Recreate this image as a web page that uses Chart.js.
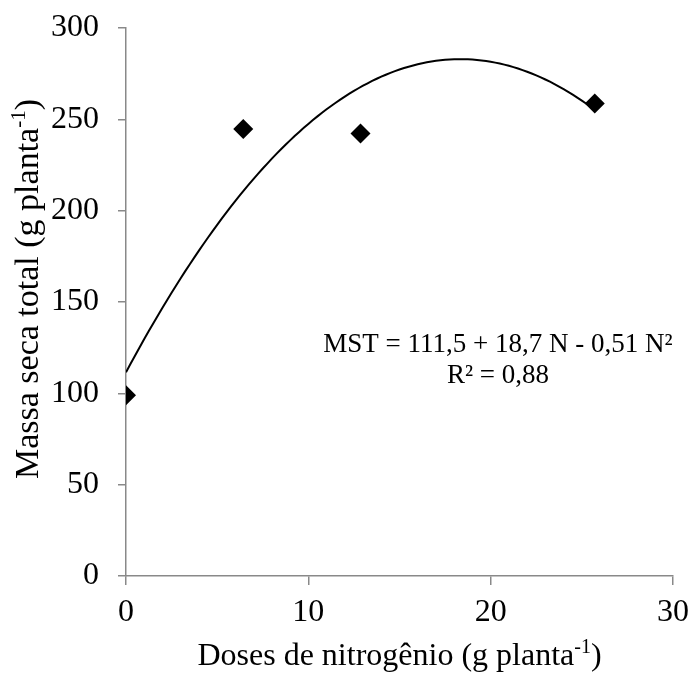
<!DOCTYPE html>
<html>
<head>
<meta charset="utf-8">
<script src="https://cdn.jsdelivr.net/npm/chart.js@4/dist/chart.umd.min.js"></script>
<style>
    body { margin: 0; background: #fff; }
    #wrap { width: 693px; height: 677px; }
</style>
</head>
<body>
<div id="wrap"><canvas id="mstChart"></canvas></div>
<script>
const doses = [0, 6.43, 12.86, 25.71];
const massaSeca = [99, 244.7, 242.3, 258.7];

// Fitted regression printed on the figure: MST = b0 + b1 N + b2 N²
const coefs = [111.5, 18.7, -0.51];
const curveStep = 0.25;

const xTicks = [0, 10, 20, 30];
const yTicks = [0, 50, 100, 150, 200, 250, 300];

const eqLines = ['MST = 111,5 + 18,7 N - 0,51 N\u00B2', 'R\u00B2 = 0,88'];

// build the trend curve from the printed coefficients
const curve = [];
const nMax = doses[doses.length - 1];
for (let n = 0; n <= nMax + 1e-9; n += curveStep) {
    curve.push({ x: n, y: coefs[0] + coefs[1] * n + coefs[2] * n * n });
}
curve.push({ x: nMax, y: coefs[0] + coefs[1] * nMax + coefs[2] * nMax * nMax });

const points = doses.map((d, i) => ({ x: d, y: massaSeca[i] }));

const FONT = '"Liberation Serif", "Times New Roman", serif';

// draws text with a raised "-1" exponent before the closing bracket
function drawSupTitle(ctx, base, sup, tail, size) {
    const small = Math.round(size * 0.62);
    ctx.font = size + 'px ' + FONT;
    const w1 = ctx.measureText(base).width;
    const w3 = ctx.measureText(tail).width;
    ctx.font = small + 'px ' + FONT;
    const w2 = ctx.measureText(sup).width;
    const total = w1 + w2 + w3;
    let x = -total / 2;
    ctx.textAlign = 'left';
    ctx.textBaseline = 'alphabetic';
    ctx.font = size + 'px ' + FONT;
    ctx.fillText(base, x, 0);
    x += w1;
    ctx.font = small + 'px ' + FONT;
    ctx.fillText(sup, x, -size * 0.38);
    x += w2;
    ctx.font = size + 'px ' + FONT;
    ctx.fillText(tail, x, 0);
}

const textPlugin = {
    id: 'textPlugin',
    afterDraw(chart) {
        const ctx = chart.ctx;
        const xs = chart.scales.x, ys = chart.scales.y;
        const area = chart.chartArea;
        ctx.save();
        ctx.fillStyle = '#000';

        // x title
        ctx.save();
        ctx.translate((area.left + area.right) / 2, 665);
        drawSupTitle(ctx, 'Doses de nitrogênio (g planta', '-1', ')', 32);
        ctx.restore();

        // y title
        ctx.save();
        ctx.translate(38, 289);
        ctx.rotate(-Math.PI / 2);
        drawSupTitle(ctx, 'Massa seca total (g planta', '-1', ')', 34);
        ctx.restore();

        // regression equation
        ctx.font = '27px ' + FONT;
        ctx.textAlign = 'center';
        ctx.textBaseline = 'alphabetic';
        ctx.fillText(eqLines[0], xs.getPixelForValue(20.4), ys.getPixelForValue(122.5));
        ctx.fillText(eqLines[1], xs.getPixelForValue(20.4), ys.getPixelForValue(105.5));
        ctx.restore();
    }
};

const ctx = document.getElementById('mstChart').getContext('2d');
new Chart(ctx, {
    type: 'scatter',
    data: {
        datasets: [
            {
                label: 'Ajuste',
                type: 'line',
                data: curve,
                borderColor: '#000',
                borderWidth: 2,
                pointRadius: 0,
                fill: false,
                tension: 0
            },
            {
                label: 'Observado',
                data: points,
                pointStyle: 'rectRot',
                pointRadius: 10,
                pointHoverRadius: 10,
                backgroundColor: '#000',
                borderColor: '#000',
                borderWidth: 0
            }
        ]
    },
    options: {
        responsive: true,
        maintainAspectRatio: false,
        animation: false,
        layout: { padding: { left: 0, right: 20, top: 28, bottom: 0 } },
        plugins: {
            legend: { display: false },
            tooltip: { enabled: false }
        },
        scales: {
            x: {
                type: 'linear',
                min: 0,
                max: 30,
                afterBuildTicks: s => { s.ticks = xTicks.map(v => ({ value: v })); },
                afterFit: s => { s.height = 101; s.paddingLeft = 0; s.paddingRight = 0; },
                ticks: {
                    color: '#000',
                    font: { family: FONT, size: 32 },
                    padding: 8
                },
                grid: {
                    display: true,
                    drawOnChartArea: false,
                    drawTicks: true,
                    tickLength: 9,
                    color: '#898989',
                    lineWidth: 1.5
                },
                border: { color: '#898989', width: 1.5 }
            },
            y: {
                type: 'linear',
                min: 0,
                max: 300,
                afterBuildTicks: s => { s.ticks = yTicks.map(v => ({ value: v })); },
                afterFit: s => { s.width = 126; s.paddingTop = 0; s.paddingBottom = 0; },
                ticks: {
                    color: '#000',
                    font: { family: FONT, size: 32 },
                    padding: 19
                },
                grid: {
                    display: true,
                    drawOnChartArea: false,
                    drawTicks: true,
                    tickLength: 8,
                    color: '#898989',
                    lineWidth: 1.5
                },
                border: { color: '#898989', width: 1.5 }
            }
        }
    },
    plugins: [textPlugin]
});
</script>
</body>
</html>
